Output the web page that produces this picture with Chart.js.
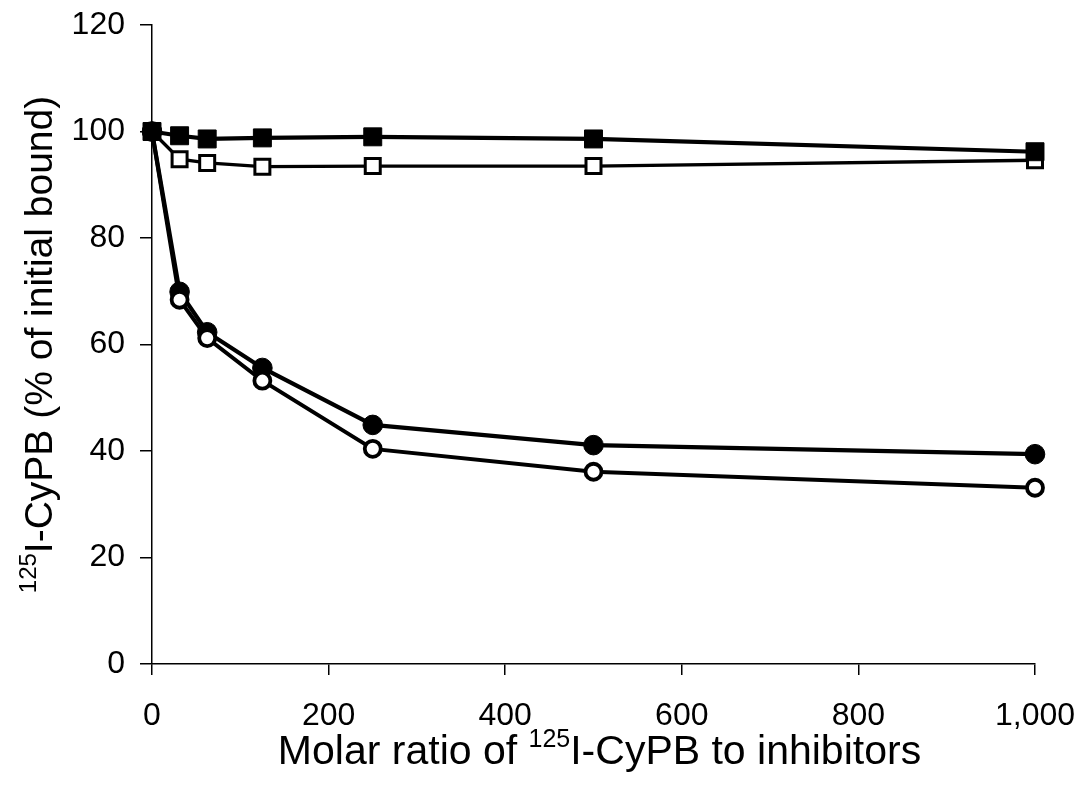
<!DOCTYPE html>
<html>
<head>
<meta charset="utf-8">
<script src="https://cdn.jsdelivr.net/npm/chart.js@4.4.1/dist/chart.umd.min.js"></script>
<style>
html, body { margin: 0; padding: 0; background: #fff; }
#wrap { width: 1081px; height: 797px; position: relative; }
</style>
</head>
<body>
<div id="wrap"><canvas id="chart"></canvas></div>
<script>
const ratios = [0, 31.25, 62.5, 125, 250, 500, 1000];
const filledSquares = [100, 99.2, 98.6, 98.8, 99.0, 98.6, 96.2];
const openSquares = [100, 94.8, 94.1, 93.4, 93.5, 93.5, 94.6];
const filledCircles = [100, 69.9, 62.3, 55.6, 44.9, 41.1, 39.4];
const openCircles = [100, 68.4, 61.2, 53.2, 40.4, 36.1, 33.1];
const xTicks = [0, 200, 400, 600, 800, 1000];
const yTicks = [0, 20, 40, 60, 80, 100, 120];
const xTitle = [["Molar ratio of ", false], ["125", true], ["I-CyPB to inhibitors", false]];
const yTitle = [["125", true], ["I-CyPB (% of initial bound)", false]];

const FONT = '"Liberation Sans", Arial, Helvetica, sans-serif';

function toPoints(values) {
	return ratios.map((x, i) => ({ x: x, y: values[i] }));
}

function drawRichText(ctx, parts, size) {
	const supSize = Math.round(size * 0.62);
	let total = 0;
	const widths = parts.map(([text, sup]) => {
		ctx.font = (sup ? supSize : size) + "px " + FONT;
		const w = ctx.measureText(text).width;
		total += w;
		return w;
	});
	let x = -total / 2;
	parts.forEach(([text, sup], i) => {
		ctx.font = (sup ? supSize : size) + "px " + FONT;
		ctx.fillText(text, x, sup ? -size * 0.42 : 0);
		x += widths[i];
	});
}

const titlePlugin = {
	id: "richTitles",
	afterDraw(chart) {
		const ctx = chart.ctx;
		const area = chart.chartArea;
		ctx.save();
		ctx.fillStyle = "#000";
		ctx.textBaseline = "alphabetic";
		ctx.textAlign = "left";
		ctx.save();
		ctx.translate((area.left + area.right) / 2 + 6, 764);
		drawRichText(ctx, xTitle, 41);
		ctx.restore();
		ctx.save();
		ctx.translate(52, (area.top + area.bottom) / 2);
		ctx.rotate(-Math.PI / 2);
		drawRichText(ctx, yTitle, 39);
		ctx.restore();
		ctx.restore();
	},
};

new Chart(document.getElementById("chart"), {
	type: "line",
	data: {
		datasets: [
			{
				data: toPoints(filledSquares),
				clip: false,
				borderColor: "#000",
				borderWidth: 4.2,
				pointStyle: "rect",
				pointRadius: 12.7,
				pointBackgroundColor: "#000",
				pointBorderColor: "#000",
				pointBorderWidth: 1,
			},
			{
				data: toPoints(openSquares),
				clip: false,
				borderColor: "#000",
				borderWidth: 3.4,
				pointStyle: "rect",
				pointRadius: 10.6,
				pointBackgroundColor: "#fff",
				pointBorderColor: "#000",
				pointBorderWidth: 3,
			},
			{
				data: toPoints(openCircles),
				clip: false,
				borderColor: "#000",
				borderWidth: 4,
				pointStyle: "circle",
				pointRadius: 8,
				pointBackgroundColor: "#fff",
				pointBorderColor: "#000",
				pointBorderWidth: 3.8,
			},
			{
				data: toPoints(filledCircles),
				clip: false,
				borderColor: "#000",
				borderWidth: 4.2,
				pointStyle: "circle",
				pointRadius: 9.8,
				pointBackgroundColor: "#000",
				pointBorderColor: "#000",
				pointBorderWidth: 1,
			},
		],
	},
	options: {
		responsive: true,
		maintainAspectRatio: false,
		animation: false,
		events: [],
		layout: { padding: { top: 25, right: 46, bottom: 0, left: 0 } },
		plugins: {
			legend: { display: false },
			tooltip: { enabled: false },
		},
		scales: {
			x: {
				type: "linear",
				min: 0,
				max: 1000,
				afterBuildTicks: (scale) => { scale.ticks = xTicks.map((v) => ({ value: v })); },
				afterFit: (scale) => {
					scale.height = 133;
					scale.paddingLeft = 0;
					scale.paddingRight = 0;
				},
				border: { color: "#000", width: 1.5 },
				grid: { drawOnChartArea: false, drawTicks: true, tickLength: 11, color: "#000", lineWidth: 1.5 },
				ticks: {
					color: "#000",
					padding: 22,
					maxRotation: 0,
					font: { family: FONT, size: 32 },
					callback: (v) => v.toLocaleString("en-US"),
				},
			},
			y: {
				type: "linear",
				min: 0,
				max: 120,
				afterBuildTicks: (scale) => { scale.ticks = yTicks.map((v) => ({ value: v })); },
				afterFit: (scale) => {
					scale.width = 152;
					scale.paddingTop = 0;
					scale.paddingBottom = 0;
				},
				border: { color: "#000", width: 1.5 },
				grid: { drawOnChartArea: false, drawTicks: true, tickLength: 12, color: "#000", lineWidth: 1.5 },
				ticks: {
					color: "#000",
					padding: 15,
					font: { family: FONT, size: 32 },
				},
			},
		},
	},
	plugins: [titlePlugin],
});
</script>
</body>
</html>
